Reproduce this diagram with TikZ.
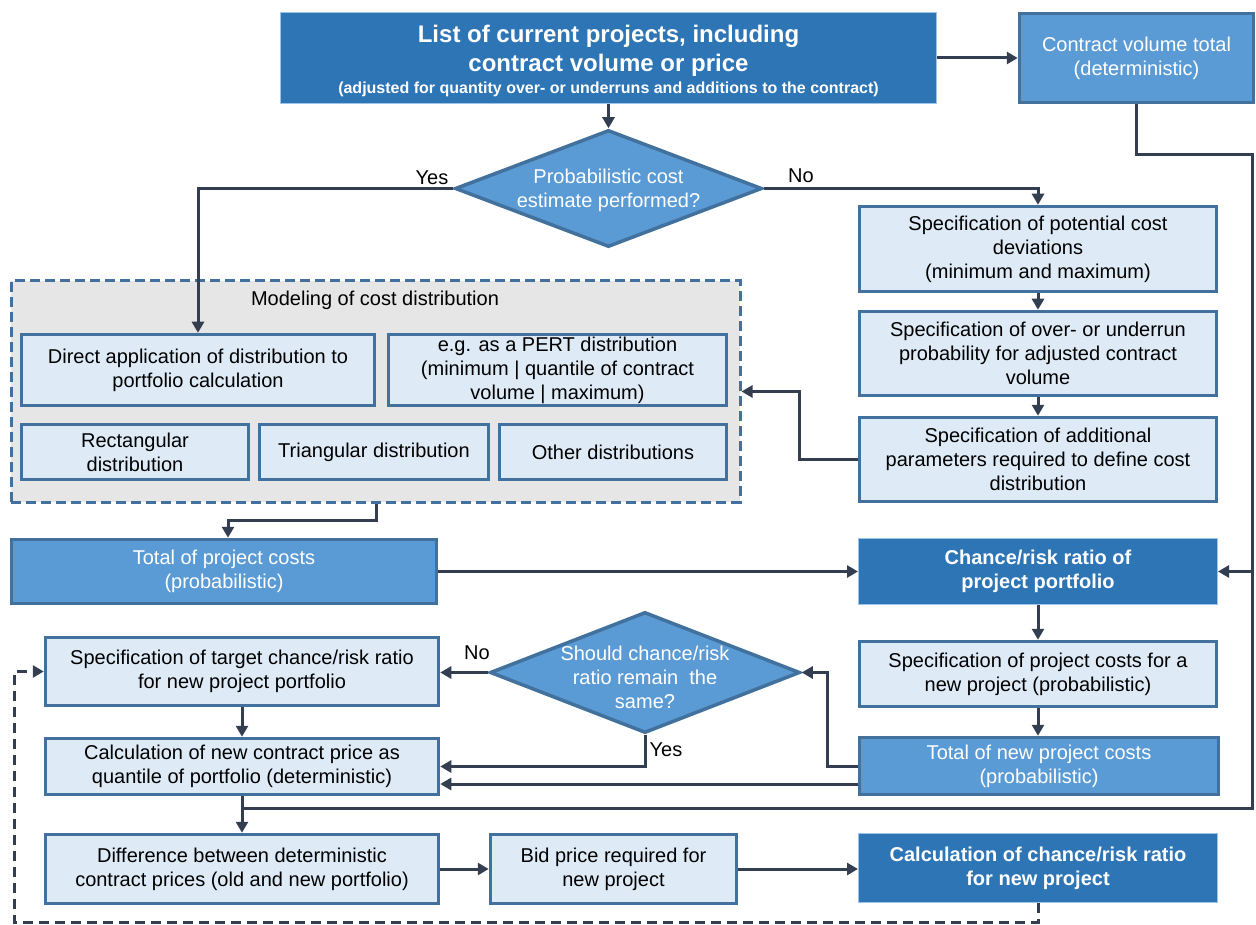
\documentclass[tikz,border=0pt]{standalone}
\usepackage{fontspec}
\setmainfont{Liberation Sans}
\usetikzlibrary{arrows.meta,shapes.geometric}
\definecolor{dkblue}{HTML}{2E75B6}
\definecolor{mdblue}{HTML}{5B9BD5}
\definecolor{ltblue}{HTML}{DEEBF7}
\definecolor{bdblue}{HTML}{41719C}
\definecolor{lnclr}{HTML}{333F50}
\definecolor{grpgray}{HTML}{E7E6E6}
\newcommand{\dtxt}[2][0pt]{\raisebox{#1}[0pt][0pt]{\makebox[0pt]{\begin{tabular}{@{}c@{}}#2\end{tabular}}}}
\begin{document}
\begin{tikzpicture}[x=1pt,y=-1pt,
  base/.style={rectangle, inner sep=0pt, align=center, font=\fontsize{20}{24}\selectfont},
  lbox/.style={base, fill=ltblue, draw=bdblue, line width=3.5pt, text=black},
  mbox/.style={base, fill=mdblue, draw=bdblue, line width=3.5pt, text=white},
  dbox/.style={base, fill=dkblue, draw=mdblue!60!white, line width=1pt, text=white, font=\bfseries\fontsize{20}{24}\selectfont},
  dia/.style={diamond, inner sep=0pt, fill=mdblue, draw=bdblue, line width=3.5pt, text=white, font=\fontsize{20}{24}\selectfont},
  grp/.style={rectangle, fill=grpgray, draw=bdblue, line width=3pt, dash pattern=on 10pt off 5pt},
  conn/.style={draw=lnclr, line width=3pt},
  arr/.style={conn, -{Triangle[length=11pt,width=12pt]}},
  darr/.style={arr, dash pattern=on 10pt off 6pt},
  lbl/.style={inner sep=0pt, font=\fontsize{20}{24}\selectfont, text=black}
]
\useasboundingbox (0,0) rectangle (1256,925);

% top row
\node[dbox, minimum width=656, minimum height=91] (top) at (608.5,58)
  {\fontsize{24}{29}\selectfont\raisebox{-10.5pt}[0pt][0pt]{\begin{tabular}{@{}c@{}}List of current projects, including\\
   contract volume or price\\[-7pt]
   \fontsize{16}{19}\selectfont (adjusted for quantity over- or underruns and additions to the contract)\end{tabular}}};
\node[mbox, minimum width=234, minimum height=89] (cvt) at (1136.5,58) {Contract volume total\\(deterministic)};

% decision 1
\node[dia, minimum width=307, minimum height=117] (d1) at (608.5,188.5) {\dtxt[-7pt]{Probabilistic cost\\estimate performed?}};
\node[lbl] (yes1) at (432,178) {Yes};
\node[lbl] (no1) at (801,176) {No};

% modeling group
\node[grp, minimum width=729, minimum height=221] (grp) at (375.5,391.5) {};
\node[lbl] (gt) at (375,300) {Modeling of cost distribution};
\node[lbox, minimum width=353, minimum height=71] (direct) at (198,370) {Direct application of distribution to\\portfolio calculation};
\node[lbox, minimum width=338, minimum height=71] (pert) at (557.5,370) {e.g. as a PERT distribution\\(minimum | quantile of contract\\volume | maximum)};
\node[lbox, minimum width=227, minimum height=55] (rect) at (135,452) {Rectangular\\distribution};
\node[lbox, minimum width=229, minimum height=55] (tri) at (374,452) {Triangular distribution};
\node[lbox, minimum width=227, minimum height=55] (other) at (613,452) {Other distributions};

% right column
\node[lbox, minimum width=357, minimum height=85] (spec1) at (1038,249) {Specification of potential cost\\deviations\\(minimum and maximum)};
\node[lbox, minimum width=357, minimum height=84] (spec2) at (1038,353.5) {Specification of over- or underrun\\probability for adjusted contract\\volume};
\node[lbox, minimum width=357, minimum height=84] (spec3) at (1038,459.5) {Specification of additional\\parameters required to define cost\\distribution};

% totals
\node[mbox, minimum width=425, minimum height=64] (totproj) at (224,571.5) {Total of project costs\\(probabilistic)};
\node[dbox, minimum width=359, minimum height=66] (chance) at (1038,571.5) {Chance/risk ratio of\\project portfolio};
\node[lbox, minimum width=357, minimum height=65] (specnew) at (1038,674) {Specification of project costs for a\\new project (probabilistic)};
\node[mbox, minimum width=359, minimum height=57] (totnew) at (1039,766) {Total of new project costs\\(probabilistic)};

% decision 2
\node[dia, minimum width=310, minimum height=121] (d2) at (645,672.5) {\dtxt[-12pt]{Should chance/risk\\ratio remain\ \ the\\same?}};
\node[lbl] (no2) at (477,653) {No};
\node[lbl] (yes2) at (666,750) {Yes};

% left column bottom
\node[lbox, minimum width=393, minimum height=68] (target) at (242,671.5) {Specification of target chance/risk ratio\\for new project portfolio};
\node[lbox, minimum width=393, minimum height=56] (calc) at (242,766.5) {Calculation of new contract price as\\quantile of portfolio (deterministic)};
\node[lbox, minimum width=393, minimum height=69] (diff) at (242,869) {Difference between deterministic\\contract prices (old and new portfolio)};
\node[lbox, minimum width=246, minimum height=69] (bid) at (613.5,869) {Bid price required for\\new project};
\node[dbox, minimum width=359, minimum height=69] (calcnew) at (1038,868) {Calculation of chance/risk ratio\\for new project};

% helper coordinates
\coordinate (rt) at (1252,155);
\coordinate (rb) at (1252,808);
\coordinate (lb) at (14,922);

% connectors
\draw[arr] (top.east) -- (cvt.west);
\draw[arr] (top.south) -- (d1.north);
\draw[arr] (d1.west) -| (direct.north);
\draw[arr] (d1.east) -| (spec1.north);
\draw[arr] (spec1) -- (spec2);
\draw[arr] (spec2) -- (spec3);
\draw[arr] (spec3.west) -- ++(-58,0) |- (grp.east);
\draw[arr] (grp.south -| direct.east) -- ++(0,17) -| ([xshift=4pt]totproj.north);
\draw[arr] (totproj) -- (chance);
\draw[conn] (cvt.south) |- (rt) -- (rb) -- (rb -| diff.north);
\draw[arr] (rb |- chance.east) -- (chance.east);
\draw[arr] (calc.south) -- (diff.north);
\draw[arr] (chance) -- (specnew);
\draw[arr] (specnew.south) -- (specnew.south |- totnew.north);
\draw[arr] (totnew.west) -- ++(-30,0) |- (d2.east);
\draw[arr] ([yshift=-18pt]totnew.west) -- ([yshift=-18pt]totnew.west -| calc.east);
\draw[arr] (d2.south) |- (calc.east);
\draw[arr] (d2.west) -- (d2.west -| target.east);
\draw[arr] (target) -- (calc);
\draw[arr] (diff) -- (bid);
\draw[arr] (bid.east) -- (bid.east -| calcnew.west);
\draw[darr] (calcnew.south) |- (lb) |- (target.west);
\end{tikzpicture}
\end{document}
